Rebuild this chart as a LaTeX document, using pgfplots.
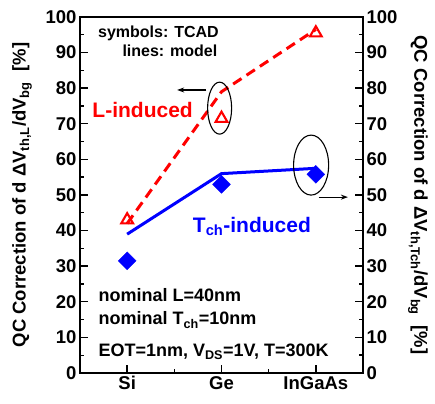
\documentclass[border=0pt]{standalone}
\usepackage{fontspec}
\setmainfont{Liberation Sans}
\usepackage{pgfplots}
\pgfplotsset{compat=1.18}
\usetikzlibrary{arrows.meta}
\definecolor{myred}{RGB}{255,0,0}
\definecolor{myblue}{RGB}{0,0,255}

\begin{document}
\begin{tikzpicture}
\path[use as bounding box] (-80pt,-30pt) rectangle (355pt,373pt);
\pgfplotsset{
 common/.style={width=283pt,height=356pt,scale only axis,
   xmin=-0.5,xmax=2.5,ymin=0,ymax=100,
   axis line style={line width=1.7pt},
   tick style={line width=1.4pt, black},
   major tick length=8pt, minor tick length=4.5pt,
   tick align=inside,
   ytick={0,10,...,100}, minor y tick num=1,
   ticklabel style={font=\fontsize{18.5}{18.5}\selectfont\bfseries},
   /pgf/number format/assume math mode=true,
   clip=false}
}
\begin{axis}[common,
  xtick={0,1,2}, xticklabels={Si,Ge,InGaAs}, minor x tick num=1,
  xtick pos=bottom, ytick pos=left,
  ylabel={QC Correction of d ΔV\textsubscript{th,L}/dV\textsubscript{bg}\ \ [\%]},
  every axis y label/.style={at={([xshift=-58pt]axis description cs:0,0.5)}, rotate=90, anchor=center, font=\fontsize{18.5}{18.5}\selectfont\bfseries}]
% model lines
\addplot[myred, line width=3pt, dash pattern=on 10pt off 6pt] coordinates {(0,42) (1,79) (2,96.5)};
\addplot[myblue, line width=3pt] coordinates {(0,39) (1,56) (2,57.5)};
% TCAD symbols
\addplot[only marks, myred, mark=triangle, mark size=6.8pt, mark options={line width=2.1pt, fill=white}] coordinates {(0,43) (1,71.5) (2,95.5)};
\addplot[only marks, myblue, mark=square*, mark size=6.3pt, mark options={fill=myblue, rotate=45}] coordinates {(0,31.5) (1,53) (2,55.8)};
% annotations
\draw[line width=1.1pt] (axis cs:0.98,74.4) ellipse [x radius=12pt, y radius=26pt];
\draw[line width=1.1pt, -{Stealth[length=7pt,width=5pt]}] (axis cs:0.84,79.5) -- (axis cs:0.53,79.5);
\draw[line width=1.1pt] (axis cs:1.95,58.4) ellipse [x radius=17.5pt, y radius=30pt];
\draw[line width=1.1pt, -{Stealth[length=7pt,width=5pt]}] (axis cs:2.03,49.4) -- (axis cs:2.34,49.4);
\node[anchor=base west, inner sep=0pt, font=\fontsize{16}{16}\selectfont\bfseries] at (axis cs:-0.31,94.1) {symbols: TCAD};
\node[anchor=base east, inner sep=0pt, font=\fontsize{16}{16}\selectfont\bfseries] at (axis cs:0.958,88.8) {lines: model};
\node[anchor=base west, inner sep=0pt, text=myred, font=\fontsize{21}{21}\selectfont\bfseries] at (axis cs:-0.37,71.9) {L-induced};
\node[anchor=base west, inner sep=0pt, text=myblue, font=\fontsize{21}{21}\selectfont\bfseries] at (axis cs:0.695,39.6) {T\textsubscript{ch}-induced};
\node[anchor=base west, inner sep=0pt, font=\fontsize{18}{18}\selectfont\bfseries] at (axis cs:-0.305,20.0) {nominal L=40nm};
\node[anchor=base west, inner sep=0pt, font=\fontsize{18}{18}\selectfont\bfseries] at (axis cs:-0.305,13.5) {nominal T\textsubscript{ch}=10nm};
\node[anchor=base west, inner sep=0pt, font=\fontsize{18}{18}\selectfont\bfseries] at (axis cs:-0.305,4.5) {EOT=1nm, V\textsubscript{DS}=1V, T=300K};
\end{axis}
\begin{axis}[common,
  axis x line=none, axis y line*=right, ytick pos=right,
  ylabel={QC Correction of d ΔV\textsubscript{th,Tch}/dV\textsubscript{bg}\ \ [\%]},
  every axis y label/.style={at={([xshift=55pt]axis description cs:1,0.5)}, rotate=-90, anchor=center, font=\fontsize{18.5}{18.5}\selectfont\bfseries}]
\end{axis}
\end{tikzpicture}
\end{document}
